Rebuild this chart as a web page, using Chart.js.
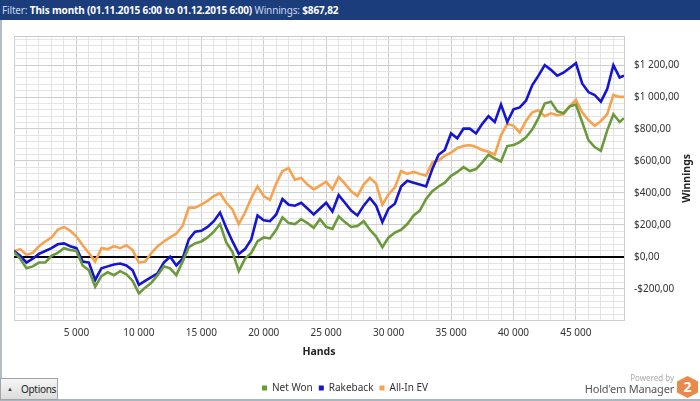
<!DOCTYPE html>
<html>
<head>
<meta charset="utf-8">
<script src="https://cdn.jsdelivr.net/npm/chart.js@4.4.1/dist/chart.umd.min.js"></script>
<style>
  html, body { margin: 0; padding: 0; background: #fff; }
  body { width: 700px; height: 401px; position: relative; overflow: hidden; font-family: "Noto Sans", sans-serif; }
  #filter { position: absolute; left: 0; top: 0; width: 700px; height: 20px; background: #1c3d7c; color: #fff;
    font-size: 10px; letter-spacing: -0.15px; line-height: 20px; padding-left: 2px; box-sizing: border-box; white-space: nowrap; }
  #filter .lbl { color: #c9d6ee; }
  #wrap { position: absolute; left: 0; top: 20px; width: 700px; height: 381px; border-left: 2px solid #b4bcc4; box-sizing: border-box; }
  #wrap canvas { position: absolute; left: -2px; top: 0; }
  #bottomLine { position: absolute; left: 0; top: 399px; width: 700px; height: 2px; background: #a9b8c0; }
  #options { position: absolute; left: 0; top: 378px; width: 58px; height: 22px; box-sizing: border-box;
    border: 1px solid #a4a4a4; background: linear-gradient(#f6f6f6, #dcdcdc); font-size: 10px; letter-spacing: -0.3px;
    color: #222; line-height: 20px; }
  #options .tri { position: absolute; left: 6px; top: 0; font-size: 6px; color: #444; }
  #options .txt { position: absolute; left: 20px; top: 0; }
  #powered { position: absolute; right: 26px; top: 372px; font-size: 8px; color: #aaa; }
  #hem { position: absolute; right: 26px; top: 381px; font-size: 11px; letter-spacing: -0.2px; color: #555; white-space: nowrap; }
  #logo { position: absolute; left: 677px; top: 376px; width: 21px; height: 22px; background: #e98a4c;
    clip-path: polygon(50% 0, 100% 25%, 100% 75%, 50% 100%, 0 75%, 0 25%); color: #fff; font-weight: bold;
    font-size: 14px; text-align: center; line-height: 22px; }
</style>
</head>
<body>
<div id="filter"><span class="lbl">Filter:</span> <b>This month (01.11.2015 6:00 to 01.12.2015 6:00)</b> <span class="lbl">Winnings:</span> <b>$867,82</b></div>
<div id="wrap"><canvas id="chart" width="700" height="381"></canvas></div>
<div id="bottomLine"></div>
<div id="options"><span class="tri">&#9650;</span><span class="txt">Options</span></div>
<div id="powered">Powered by</div>
<div id="hem">Hold'em Manager</div>
<div id="logo">2</div>
<script>
// hands played (x), every 500 hands
const hands = [
  0, 500, 1000, 1500, 2000, 2500, 3000, 3500, 4000, 4500,
  5000, 5500, 6000, 6500, 7000, 7500, 8000, 8500, 9000, 9500,
  10000, 10500, 11000, 11500, 12000, 12500, 13000, 13500, 14000, 14500,
  15000, 15500, 16000, 16500, 17000, 17500, 18000, 18500, 19000, 19500,
  20000, 20500, 21000, 21500, 22000, 22500, 23000, 23500, 24000, 24500,
  25000, 25500, 26000, 26500, 27000, 27500, 28000, 28500, 29000, 29500,
  30000, 30500, 31000, 31500, 32000, 32500, 33000, 33500, 34000, 34500,
  35000, 35500, 36000, 36500, 37000, 37500, 38000, 38500, 39000, 39500,
  40000, 40500, 41000, 41500, 42000, 42500, 43000, 43500, 44000, 44500,
  45000, 45500, 46000, 46500, 47000, 47500, 48000, 48500, 48850
];

const netWon = [
  30, -12, -72, -60, -36, -36, 6, 24, 54, 42,
  36, -54, -84, -187, -121, -96, -115, -90, -109, -151,
  -229, -193, -163, -115, -60, -72, -115, -30, 60, 84,
  96, 121, 157, 205, 90, 30, -90, -12, 24, 96,
  121, 115, 169, 247, 211, 205, 235, 211, 181, 235,
  187, 175, 253, 217, 187, 193, 223, 169, 127, 60,
  121, 151, 169, 205, 259, 289, 362, 410, 440, 464,
  507, 531, 561, 537, 549, 591, 639, 615, 597, 693,
  699, 718, 748, 796, 868, 959, 971, 911, 898, 941,
  953, 844, 730, 687, 663, 790, 892, 844, 867.82
];

const rakeback = [
  36, 6, -36, -12, 18, 36, 54, 78, 84, 66,
  54, -30, -36, -145, -72, -60, -48, -42, -54, -84,
  -175, -151, -127, -103, -36, 0, -54, -12, 109, 157,
  163, 187, 223, 277, 181, 96, 18, 48, 109, 259,
  229, 223, 265, 362, 326, 320, 338, 302, 265, 302,
  338, 283, 386, 338, 289, 259, 320, 368, 320, 217,
  302, 332, 440, 476, 464, 452, 440, 549, 639, 669,
  772, 742, 802, 802, 772, 832, 880, 844, 953, 844,
  923, 935, 977, 1073, 1134, 1200, 1170, 1134, 1152, 1182,
  1212, 1085, 1031, 1013, 971, 1049, 1200, 1122, 1134
];

const allInEV = [
  36, 48, 12, 24, 66, 96, 121, 169, 187, 163,
  127, 72, 24, -30, 54, 48, 66, 54, 72, 42,
  -36, -30, 24, 66, 96, 121, 145, 193, 308, 308,
  326, 350, 380, 398, 338, 295, 205, 277, 368, 440,
  380, 356, 458, 537, 555, 482, 494, 452, 422, 446,
  470, 422, 500, 458, 410, 380, 452, 494, 458, 326,
  392, 434, 537, 519, 531, 519, 507, 591, 603, 633,
  651, 681, 693, 699, 687, 669, 657, 639, 760, 832,
  820, 778, 850, 904, 917, 880, 898, 886, 892, 941,
  983, 904, 856, 820, 850, 892, 1013, 1001, 1001
];

const xLabelAt = [5000, 10000, 15000, 20000, 25000, 30000, 35000, 40000, 45000];
const xLabelText = ['5 000', '10 000', '15 000', '20 000', '25 000', '30 000', '35 000', '40 000', '45 000'];
const yLabelAt = [-200, 0, 200, 400, 600, 800, 1000, 1200];
const yLabelText = ['-$200,00', '$0,00', '$200,00', '$400,00', '$600,00', '$800,00', '$1 000,00', '$1 200,00'];

const X_MAX = 48850;
const Y_MIN = -400;
const Y_MAX = 1382;
const FONT = '"Noto Sans", sans-serif';

// grid every 1000 hands / $40; the axis ends are not on the step, so ticks are set by hand
const xGrid = [];
for (let v = 0; v <= X_MAX; v += 1000) xGrid.push(v);
const yGrid = [];
for (let v = Y_MIN; v < Y_MAX; v += 40) yGrid.push(v);
yGrid.push(Y_MAX);

const series = (label, values, color) => ({
  label,
  data: hands.map((h, i) => ({ x: h, y: values[i] })),
  borderColor: color,
  backgroundColor: color,
  borderWidth: 2.6,
  pointRadius: 0,
  tension: 0
});

// legend sits a little left of the canvas centre in the original
const nudgeLegend = {
  id: 'nudgeLegend',
  afterLayout(chart) {
    const lg = chart.legend;
    lg.left -= 12; lg.right -= 12;
    lg.top += 2; lg.bottom += 2;
  }
};

// right axis title reads bottom-to-top
const winningsTitle = {
  id: 'winningsTitle',
  afterDraw(chart) {
    const { ctx, chartArea } = chart;
    ctx.save();
    ctx.translate(chart.width - 13, (chartArea.top + chartArea.bottom) / 2);
    ctx.rotate(-Math.PI / 2);
    ctx.font = 'bold 10.5px ' + FONT;
    ctx.fillStyle = '#222';
    ctx.textAlign = 'center';
    ctx.textBaseline = 'middle';
    ctx.fillText('Winnings', 0, 0);
    ctx.restore();
  }
};

new Chart(document.getElementById('chart'), {
  type: 'line',
  data: {
    datasets: [
      series('Net Won', netWon, '#6a9a3a'),
      series('Rakeback', rakeback, '#1414d2'),
      series('All-In EV', allInEV, '#f6a24e')
    ]
  },
  options: {
    responsive: false,
    animation: false,
    layout: { padding: { top: 8.3, left: 14, right: 0, bottom: 0 } },
    plugins: {
      tooltip: { enabled: false },
      legend: {
        position: 'bottom',
        labels: {
          boxWidth: 5,
          boxHeight: 5,
          padding: 6,
          color: '#333',
          font: { family: FONT, size: 10 },
          generateLabels: (chart) =>
            Chart.defaults.plugins.legend.labels.generateLabels(chart).map(l => ({ ...l, lineWidth: 0 }))
        }
      }
    },
    scales: {
      x: {
        type: 'linear',
        min: 0,
        max: X_MAX,
        afterFit: (s) => { s.height = 54.3; },
        afterBuildTicks: (s) => { s.ticks = xGrid.map(v => ({ value: v })); },
        ticks: {
          autoSkip: false,
          maxRotation: 0,
          padding: 6.8,
          color: '#333',
          font: { family: FONT, size: 10 },
          callback: (v) => { const i = xLabelAt.indexOf(v); return i < 0 ? '' : xLabelText[i]; }
        },
        grid: {
          drawTicks: false,
          color: (c) => (c.tick && c.tick.value % 5000 === 0 ? '#cdcdcd' : '#e4e4e4')
        },
        border: { color: '#cdcdcd' },
        title: {
          display: true,
          text: 'Hands',
          color: '#222',
          font: { family: FONT, size: 10.5, weight: 'bold' },
          padding: { top: 0, bottom: 16.7 }
        }
      },
      y: {
        type: 'linear',
        position: 'right',
        min: Y_MIN,
        max: Y_MAX,
        afterFit: (s) => { s.width = 76; },
        afterBuildTicks: (s) => { s.ticks = yGrid.map(v => ({ value: v })); },
        ticks: {
          autoSkip: false,
          padding: 10,
          color: '#333',
          font: { family: FONT, size: 10 },
          callback: (v) => { const i = yLabelAt.indexOf(v); return i < 0 ? '' : yLabelText[i]; }
        },
        grid: {
          drawTicks: false,
          color: (c) => {
            const v = c.tick ? c.tick.value : null;
            if (v === 0) return '#000';
            return v % 200 === 0 || v === Y_MAX ? '#cdcdcd' : '#e4e4e4';
          },
          lineWidth: (c) => (c.tick && c.tick.value === 0 ? 2 : 1)
        },
        border: { color: '#cdcdcd' }
      }
    }
  },
  plugins: [nudgeLegend, winningsTitle]
});
</script>
</body>
</html>
